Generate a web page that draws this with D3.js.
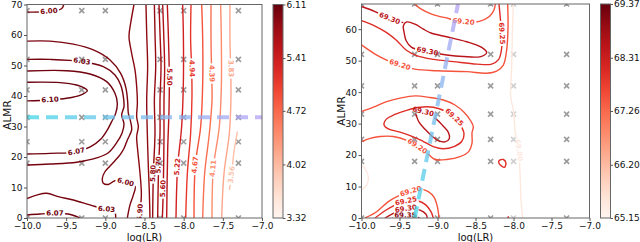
<!DOCTYPE html>
<html>
<head>
<meta charset="utf-8">
<script src="https://cdn.jsdelivr.net/npm/d3@7"></script>
<style>
  body { margin: 0; background: #fff; }
  svg { font-family: "DejaVu Sans", sans-serif; }
</style>
</head>
<body>
<svg id="chart" width="640" height="242"></svg>
<script>
// ---- shared axes / grid values ----
const xTicks = [-10, -9.5, -9, -8.5, -8, -7.5, -7];
const leftYTicks = [0, 10, 20, 30, 40, 50, 60, 70];
const rightYTicks = [0, 10, 20, 30, 40, 50, 60];
const gridLR = [-10, -9.301, -9, -8.301, -8, -7.301];
const gridALMR = [0, 18, 25, 33, 42, 52, 68];
const leftBarTicks = [3.32, 4.02, 4.72, 5.41, 6.11];
const rightBarTicks = [65.15, 66.20, 67.26, 68.31, 69.37];
const leftPath = [[-10, 33], [-7, 33]];
const rightPath = [[-9.3, 0], [-8.73, 68]];

// ---- left panel contour lines [logLR, ALMR] ----
const cL600stub = [[-10, 67.5], [-9.72, 67.7], [-9.56, 68.6], [-9.53, 70]];
const cL600 = [[-10, 58.0], [-9.706, 58.0], [-9.409, 57.0], [-9.153, 55.1], [-8.940, 51.8], [-8.804, 47.4], [-8.736, 42.5], [-8.715, 38.1], [-8.706, 34.3], [-8.677, 31.6], [-8.664, 28.9], [-8.719, 25.6], [-8.762, 22.8], [-8.813, 20.7], [-8.877, 18.8], [-8.949, 16.8], [-9.009, 15.0], [-9.038, 13.0], [-9.026, 11.4], [-8.962, 11.0], [-8.877, 12.2], [-8.740, 11.7], [-8.621, 10.3], [-8.643, 7.5], [-8.685, 4.3], [-8.719, 0]];
const cL590 = [[-8.634, 70], [-8.677, 63.8], [-8.698, 59.5], [-8.664, 54.0], [-8.621, 48.5], [-8.600, 43.1], [-8.591, 37.6], [-8.600, 33.2], [-8.579, 29.9], [-8.600, 26.7], [-8.587, 22.3], [-8.557, 14.6], [-8.540, 8.1], [-8.549, 3.7], [-8.557, 0]];
const cL585 = [[-8.481, 70], [-8.472, 60.5], [-8.460, 49.6], [-8.472, 38.7], [-8.464, 27.8], [-8.451, 16.8], [-8.438, 8.1], [-8.430, 0]];
const cL580 = [[-8.374, 70], [-8.366, 60.5], [-8.357, 49.6], [-8.374, 38.7], [-8.366, 27.8], [-8.387, 14.6], [-8.396, 0]];
const cL570 = [[-8.315, 70], [-8.302, 60.5], [-8.289, 49.6], [-8.302, 38.7], [-8.302, 27.8], [-8.319, 17.4], [-8.332, 0]];
const cL560 = [[-8.268, 70], [-8.255, 60.5], [-8.243, 49.6], [-8.251, 38.7], [-8.251, 27.8], [-8.260, 9.7], [-8.272, 0]];
const cL550 = [[-8.209, 70], [-8.196, 60.5], [-8.183, 46.3], [-8.187, 35.4], [-8.204, 22.3], [-8.217, 0]];
const cL522 = [[-8.013, 70], [-8.004, 60.5], [-8.004, 44.2], [-8.026, 29.9], [-8.077, 16.8], [-8.098, 0]];
const cL494 = [[-7.906, 70], [-7.911, 58.4], [-7.898, 49.1], [-7.894, 39.8], [-7.911, 27.8], [-7.953, 14.6], [-7.974, 0]];
const cL467 = [[-7.770, 70], [-7.757, 58.4], [-7.757, 44.2], [-7.783, 29.9], [-7.851, 17.4], [-7.868, 0]];
const cL439 = [[-7.651, 70], [-7.651, 58.4], [-7.643, 47.4], [-7.638, 38.7], [-7.672, 27.8], [-7.732, 14.6], [-7.757, 0]];
const cL411 = [[-7.528, 70], [-7.519, 58.4], [-7.519, 43.1], [-7.545, 29.9], [-7.621, 16.3], [-7.638, 0]];
const cL383 = [[-7.409, 70], [-7.409, 58.4], [-7.400, 49.1], [-7.396, 39.8], [-7.417, 27.8], [-7.485, 14.6], [-7.515, 0]];
const cL356 = [[-7.315, 28.3], [-7.366, 20.1], [-7.387, 14.1], [-7.417, 9.2]];
const cL610 = [[-10, 44.5], [-9.579, 44.4], [-9.366, 43.6], [-9.260, 42.5], [-9.230, 41.7], [-9.281, 40.7], [-9.430, 39.5], [-9.706, 38.7], [-10, 38.4]];
const cL607a = [[-10, 48.2], [-9.494, 48.3], [-9.196, 47.2], [-8.983, 44.7], [-8.877, 40.9], [-8.847, 37.6], [-8.868, 34.3], [-8.919, 31.6], [-8.974, 28.9], [-9.060, 25.8], [-9.187, 23.4], [-9.366, 21.7], [-9.706, 21.2], [-10, 21.0]];
const cL603a = [[-10, 52.0], [-9.706, 52.0], [-9.302, 51.3], [-9.026, 49.6], [-8.877, 46.9], [-8.804, 43.6], [-8.770, 39.8], [-8.762, 36.5], [-8.791, 33.8], [-8.762, 30.8], [-8.787, 27.8], [-8.855, 24.7], [-8.962, 21.4], [-9.111, 19.7], [-9.366, 18.3], [-9.706, 17.7], [-10, 17.4]];
const cL603b = [[-10, 6.4], [-9.877, 7.5], [-9.749, 8.1], [-9.600, 7.0], [-9.409, 5.9], [-9.196, 4.3], [-8.983, 2.8], [-8.898, 2.8], [-8.872, 1.5], [-8.868, 0]];
const cL607b = [[-10, 1.0], [-9.834, 1.3], [-9.643, 1.5], [-9.472, 1.3], [-9.357, 0.4], [-9.323, 0]];

// ---- right panel contour lines [logLR, ALMR] ----
const cR930tl = [[-10, 67.2], [-9.822, 65.6], [-9.634, 63.4], [-9.45, 62.1]];
const cR930up = [[-9.441, 59.2], [-9.450, 61.0], [-9.406, 62.3], [-9.296, 61.6], [-9.186, 60.0], [-9.077, 58.7], [-8.879, 57.6], [-8.616, 56.0], [-8.419, 54.2], [-8.353, 52.6], [-8.432, 51.3], [-8.660, 51.3], [-8.879, 51.8], [-9.134, 52.9], [-9.340, 54.2], [-9.414, 56.4]];
const cR925up = [[-10, 62.7], [-9.822, 61.0], [-9.669, 58.9], [-9.537, 56.4], [-9.414, 53.4], [-9.265, 51.5], [-9.055, 50.4], [-8.792, 49.7], [-8.485, 48.9], [-8.287, 48.9], [-8.195, 50.4], [-8.156, 53.9], [-8.156, 58.7], [-8.173, 63.4], [-8.191, 68]];
const cR920up = [[-10, 55.0], [-9.822, 52.1], [-9.669, 50.2], [-9.493, 48.6], [-9.296, 47.3], [-9.011, 46.8], [-8.616, 46.5], [-8.353, 46.0], [-8.222, 46.7], [-8.134, 48.6], [-8.090, 53.4], [-8.072, 60.8], [-8.077, 68]];
const cR920arc = [[-9.296, 68], [-9.230, 66.6], [-9.077, 64.8], [-8.857, 63.4], [-8.660, 62.3], [-8.449, 62.5], [-8.318, 64.0], [-8.257, 66.1], [-8.239, 68]];
const cR930mid = [[-9.274, 32.2], [-9.283, 33.5], [-9.221, 33.9], [-9.121, 33.0], [-9.020, 31.5], [-8.932, 29.4], [-8.857, 27.2], [-8.844, 25.3], [-8.901, 24.2], [-8.989, 24.6], [-9.077, 26.1], [-9.164, 28.2], [-9.239, 30.3]];
const cR925mid = [[-9.704, 29.6], [-9.669, 31.5], [-9.559, 32.9], [-9.397, 34.3], [-9.230, 35.2], [-9.055, 35.2], [-8.901, 34.0], [-8.779, 31.9], [-8.695, 29.4], [-8.651, 26.7], [-8.682, 24.3], [-8.783, 22.7], [-8.923, 22.0], [-9.055, 22.7], [-9.186, 24.3], [-9.318, 25.8], [-9.493, 27.3], [-9.647, 28.3]];
const cR920mid = [[-10, 33.8], [-9.844, 35.2], [-9.669, 37.0], [-9.493, 38.1], [-9.296, 38.8], [-9.099, 38.3], [-8.923, 37.5], [-8.770, 35.9], [-8.651, 33.6], [-8.564, 30.9], [-8.529, 29.0], [-8.546, 27.1], [-8.546, 23.7], [-8.590, 21.1], [-8.704, 19.5], [-8.879, 18.6], [-9.033, 18.6], [-9.121, 20.2], [-9.265, 22.7], [-9.397, 24.6], [-9.581, 25.9], [-9.757, 25.9], [-9.888, 25.3], [-10, 24.3]];
const cR925dot = [[-8.191, 18.2], [-8.134, 18.6], [-8.099, 17.4], [-8.121, 16.1], [-8.156, 16.5], [-8.191, 17.4]];
const cR925tick = [[-8.075, 0], [-8.069, 0.4], [-8.062, 0]];
const cR900 = [[-8.002, 68], [-8.015, 58.7], [-8.024, 48.1], [-8.037, 38.6], [-8.002, 34.3], [-7.976, 26.9], [-7.932, 21.6], [-7.914, 14.2], [-7.901, 5.7], [-7.879, 0]];
const cR900left = [[-10, 16.8], [-9.95, 15.5], [-9.91, 13.1], [-9.93, 10.5], [-10, 8.9]];
const cR920bot = [[-9.954, 0], [-9.800, 2.0], [-9.647, 5.2], [-9.493, 7.3], [-9.353, 8.4], [-9.208, 9.1], [-9.121, 8.4], [-9.046, 6.6], [-9.002, 3.6], [-8.980, 0]];
const cR925bot = [[-9.822, 0], [-9.691, 2.3], [-9.559, 4.1], [-9.414, 5.3], [-9.252, 5.4], [-9.151, 4.1], [-9.086, 2.0], [-9.055, 0]];
const cR930bot = [[-9.691, 0], [-9.581, 1.5], [-9.414, 2.9], [-9.230, 2.5], [-9.151, 1.2], [-9.134, 0]];
const cR935bot = [[-9.590, 0], [-9.529, 0.5], [-9.423, 0.8], [-9.296, 0.4], [-9.239, 0]];

const leftContours = [
  { level: 6.00, pts: cL600stub, label: [-9.72, 67.7] },
  { level: 6.00, pts: cL600, label: [-8.74, 11.7] },
  { level: 5.90, pts: cL590, label: [-8.55, 1.8] },
  { level: 5.85, pts: cL585 },
  { level: 5.80, pts: cL580, label: [-8.387, 14.6] },
  { level: 5.70, pts: cL570, label: [-8.319, 17.4] },
  { level: 5.60, pts: cL560, label: [-8.26, 9.7] },
  { level: 5.50, pts: cL550, label: [-8.183, 46.3] },
  { level: 5.22, pts: cL522, label: [-8.077, 16.8] },
  { level: 4.94, pts: cL494, label: [-7.898, 49.1] },
  { level: 4.67, pts: cL467, label: [-7.851, 17.4] },
  { level: 4.39, pts: cL439, label: [-7.643, 47.4] },
  { level: 4.11, pts: cL411, label: [-7.621, 16.3] },
  { level: 3.83, pts: cL383, label: [-7.400, 49.1] },
  { level: 3.56, pts: cL356, label: [-7.387, 14.1] },
  { level: 6.10, pts: cL610, label: [-9.706, 38.7] },
  { level: 6.07, pts: cL607a, label: [-9.366, 21.7] },
  { level: 6.03, pts: cL603a, label: [-9.302, 51.3] },
  { level: 6.03, pts: cL603b, label: [-8.983, 2.8] },
  { level: 6.07, pts: cL607b, label: [-9.643, 1.5] }
];

const rightContours = [
  { level: 69.00, pts: cR900, label: [-7.932, 21.6] },
  { level: 69.00, pts: cR900left },
  { level: 69.30, pts: cR930tl, label: [-9.634, 63.4] },
  { level: 69.30, pts: cR930up, closed: true, label: [-9.134, 52.9] },
  { level: 69.25, pts: cR925up, label: [-8.156, 58.7] },
  { level: 69.20, pts: cR920up, label: [-9.493, 48.6] },
  { level: 69.20, pts: cR920arc, label: [-8.660, 62.3] },
  { level: 69.30, pts: cR930mid, closed: true, label: [-9.19, 33.6] },
  { level: 69.25, pts: cR925mid, closed: true, label: [-8.779, 31.9] },
  { level: 69.20, pts: cR920mid, label: [-9.265, 22.7] },
  { level: 69.25, pts: cR925dot, closed: true },
  { level: 69.25, pts: cR925tick },
  { level: 69.20, pts: cR920bot, label: [-9.353, 8.4] },
  { level: 69.25, pts: cR925bot, label: [-9.414, 5.3] },
  { level: 69.30, pts: cR930bot, label: [-9.414, 2.9] },
  { level: 69.35, pts: cR935bot, label: [-9.423, 0.8] }
];

const svg = d3.select("#chart");
const defs = svg.append("defs");
let maskCount = 0;

function styleAxis(g) {
  g.select(".domain").remove();
  g.selectAll(".tick line").attr("stroke", "#555");
  g.selectAll(".tick text").attr("fill", "#111").attr("font-size", 9)
    .attr("font-family", "DejaVu Sans, sans-serif");
}

// put a contour label on the path near pt and cut the line under it
function addLabel(g, pathSel, pt, col, txt) {
  const node = pathSel.node();
  const total = node.getTotalLength();
  let best = 0, bd = Infinity;
  for (let s = 0; s <= total; s += 0.5) {
    const q = node.getPointAtLength(s);
    const d = (q.x - pt[0]) ** 2 + (q.y - pt[1]) ** 2;
    if (d < bd) { bd = d; best = s; }
  }
  const c = node.getPointAtLength(best);
  const a = node.getPointAtLength(Math.max(0, best - 4));
  const b = node.getPointAtLength(Math.min(total, best + 4));
  let ang = Math.atan2(b.y - a.y, b.x - a.x) * 180 / Math.PI;
  if (ang > 90) ang -= 180;
  if (ang < -90) ang += 180;
  const tr = `translate(${c.x},${c.y}) rotate(${ang})`;
  const t = g.append("text")
    .attr("transform", tr)
    .attr("text-anchor", "middle")
    .attr("dominant-baseline", "central")
    .attr("font-size", 7)
    .attr("font-weight", "bold")
    .attr("fill", col)
    .text(txt);
  const w = t.node().getComputedTextLength() + 3;
  const id = "m" + (maskCount++);
  const m = defs.append("mask").attr("id", id).attr("maskUnits", "userSpaceOnUse")
    .attr("x", 0).attr("y", 0).attr("width", 640).attr("height", 242);
  m.append("rect").attr("width", 640).attr("height", 242).attr("fill", "white");
  m.append("rect").attr("x", -w / 2).attr("y", -3.5).attr("width", w).attr("height", 7)
    .attr("transform", tr).attr("fill", "black");
  pathSel.attr("mask", `url(#${id})`);
}

function panel(cfg) {
  const x = d3.scaleLinear().domain([-10, -7]).range(cfg.xRange);
  const y = d3.scaleLinear().domain(cfg.yDomain).range(cfg.yRange);
  const color = d3.scaleSequential(d3.interpolateReds).domain(cfg.colorDomain);
  const top = cfg.yRange[1], bottom = cfg.yRange[0];
  const left = cfg.xRange[0], right = cfg.xRange[1];

  const clipId = "clip-" + cfg.name;
  defs.append("clipPath").attr("id", clipId).append("rect")
    .attr("x", left).attr("y", top)
    .attr("width", right - left).attr("height", bottom - top);

  const plot = svg.append("g").attr("clip-path", `url(#${clipId})`);

  // sampled grid points
  gridLR.forEach(gx => gridALMR.forEach(gy => {
    plot.append("path")
      .attr("transform", `translate(${x(gx)},${y(gy)})`)
      .attr("d", "M-2.5,-2.5L2.5,2.5M-2.5,2.5L2.5,-2.5")
      .attr("stroke", "#8a8a8a")
      .attr("stroke-width", 1.6)
      .attr("opacity", gx === cfg.fadedLR ? 0.4 : 0.85);
  }));

  const line = d3.line().x(d => x(d[0])).y(d => y(d[1])).curve(d3.curveCatmullRom.alpha(0.5));
  const loop = d3.line().x(d => x(d[0])).y(d => y(d[1])).curve(d3.curveCatmullRomClosed.alpha(0.5));

  const labels = [];
  cfg.contours.forEach(c => {
    const p = plot.append("path")
      .attr("d", (c.closed ? loop : line)(c.pts))
      .attr("fill", "none")
      .attr("stroke", color(c.level))
      .attr("stroke-width", 1.4);
    if (c.label) labels.push([p, c]);
  });
  labels.forEach(([p, c]) => {
    addLabel(plot, p, [x(c.label[0]), y(c.label[1])], color(c.level), c.level.toFixed(2));
  });

  // optimisation path, dashed with colour gradient
  const gid = "grad-" + cfg.name;
  const gr = defs.append("linearGradient").attr("id", gid).attr("gradientUnits", "userSpaceOnUse")
    .attr("x1", x(cfg.path[0][0])).attr("y1", y(cfg.path[0][1]))
    .attr("x2", x(cfg.path[1][0])).attr("y2", y(cfg.path[1][1]));
  gr.append("stop").attr("offset", 0).attr("stop-color", "#3fd6e6");
  gr.append("stop").attr("offset", 1).attr("stop-color", "#b5a0f5");
  plot.append("path")
    .attr("d", d3.line().x(d => x(d[0])).y(d => y(d[1]))(cfg.path))
    .attr("stroke", `url(#${gid})`)
    .attr("stroke-width", 4)
    .attr("stroke-dasharray", "12,7")
    .attr("opacity", 0.75)
    .attr("fill", "none");

  // frame
  svg.append("rect").attr("x", left).attr("y", top)
    .attr("width", right - left).attr("height", bottom - top)
    .attr("fill", "none").attr("stroke", "#666").attr("stroke-width", 1);

  svg.append("g").attr("transform", `translate(0,${bottom})`)
    .call(d3.axisBottom(x).tickValues(xTicks).tickFormat(d3.format(".1f")).tickSize(3).tickPadding(1.5))
    .call(styleAxis);
  svg.append("g").attr("transform", `translate(${left},0)`)
    .call(d3.axisLeft(y).tickValues(cfg.yTicks).tickFormat(d3.format("d")).tickSize(3).tickPadding(1.5))
    .call(styleAxis);

  svg.append("text").attr("x", (left + right) / 2).attr("y", 240.5)
    .attr("text-anchor", "middle").attr("font-size", 10).attr("fill", "#111").text("log(LR)");
  svg.append("text").attr("transform", `translate(${cfg.yLabelX},${cfg.yLabelY}) rotate(-90)`)
    .attr("text-anchor", "middle").attr("font-size", 10.5).attr("fill", "#111").text("ALMR");

  // colour bar
  const bid = "bar-" + cfg.name;
  const bg = defs.append("linearGradient").attr("id", bid)
    .attr("x1", 0).attr("y1", 1).attr("x2", 0).attr("y2", 0);
  d3.range(0, 1.0001, 0.1).forEach(t => bg.append("stop").attr("offset", t).attr("stop-color", d3.interpolateReds(t)));
  svg.append("rect").attr("x", cfg.barX).attr("y", top).attr("width", cfg.barW).attr("height", bottom - top)
    .attr("fill", `url(#${bid})`).attr("stroke", "#666").attr("stroke-width", 1);
  const bs = d3.scaleLinear().domain([cfg.barTicks[0], cfg.barTicks[cfg.barTicks.length - 1]]).range([bottom, top]);
  svg.append("g").attr("transform", `translate(${cfg.barX + cfg.barW},0)`)
    .call(d3.axisRight(bs).tickValues(cfg.barTicks).tickFormat(d3.format(".2f")).tickSize(2.5).tickPadding(1))
    .call(styleAxis);
}

panel({
  name: "left", xRange: [27, 262], yRange: [218, 4.5], yDomain: [0, 70], yTicks: leftYTicks,
  colorDomain: [2.8, 6.13], contours: leftContours, path: leftPath,
  barX: 273, barW: 10, barTicks: leftBarTicks, yLabelX: 10.5, yLabelY: 115
});
panel({
  name: "right", xRange: [361.5, 589.5], yRange: [218, 4], yDomain: [0, 68], yTicks: rightYTicks,
  colorDomain: [68.97, 69.38], contours: rightContours, path: rightPath, fadedLR: -8,
  barX: 600.5, barW: 10, barTicks: rightBarTicks, yLabelX: 344.5, yLabelY: 111
});
</script>
</body>
</html>
